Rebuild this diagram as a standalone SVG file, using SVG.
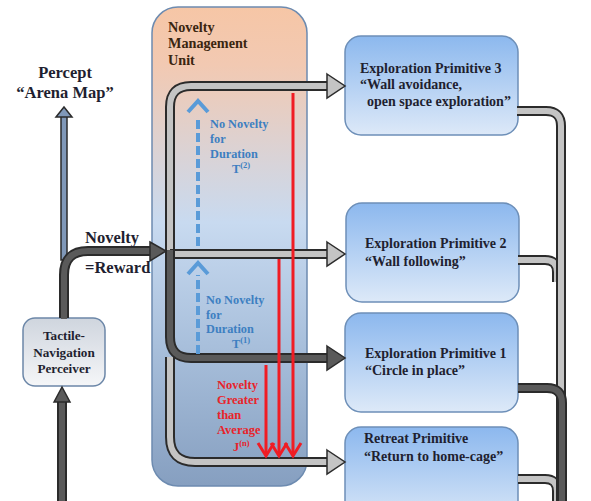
<svg xmlns="http://www.w3.org/2000/svg" width="591" height="501" viewBox="0 0 591 501">
<defs>
<linearGradient id="gNMU" x1="0" y1="0" x2="0" y2="1">
<stop offset="0" stop-color="#f6c6a6"/>
<stop offset="0.12" stop-color="#f2c9b2"/>
<stop offset="0.45" stop-color="#c8daf0"/>
<stop offset="0.7" stop-color="#a9c0dc"/>
<stop offset="1" stop-color="#869fc0"/>
</linearGradient>
<linearGradient id="gBox" x1="0" y1="0" x2="0" y2="1">
<stop offset="0" stop-color="#8cb8ee"/>
<stop offset="1" stop-color="#dde9f8"/>
</linearGradient>
<linearGradient id="gPer" x1="0" y1="0" x2="0" y2="1">
<stop offset="0" stop-color="#cfd5de"/>
<stop offset="1" stop-color="#f5f6f8"/>
</linearGradient>
</defs>
<style>
text{font-family:'Liberation Serif','Times New Roman','DejaVu Serif',serif;font-weight:bold}
.box{fill:url(#gBox);stroke:#6d8fb8;stroke-width:1.5}
.bt{font-size:14px;fill:#1f1f30}
.o{fill:none;stroke:#2b2b2b;stroke-width:10}
.lg{fill:none;stroke:#c4c4c4;stroke-width:6}
.dg{fill:none;stroke:#5a5a5a;stroke-width:6}
.ah{stroke:#2b2b2b;stroke-width:1.5;stroke-linejoin:miter}
.red{stroke:#f01c24;stroke-width:3;fill:none}
.blue{stroke:#5a9bd8;stroke-width:4;fill:none}
.bl{font-size:12.3px;fill:#3d7fc1}
.rd{font-size:12.5px;fill:#e8232a}
</style>

<g id="nmu">
<rect x="152" y="7" width="155" height="479" rx="26" fill="url(#gNMU)" stroke="#6d8bb0" stroke-width="1.5"/>
<text font-size="14.2" fill="#3a2510"><tspan x="168" y="32">Novelty</tspan><tspan x="168" y="48">Management</tspan><tspan x="168" y="65">Unit</tspan></text>
</g>

<g id="ep3">
<rect class="box" x="345" y="36" width="173" height="99" rx="16"/>
<text class="bt"><tspan x="360" y="73">Exploration Primitive 3</tspan><tspan x="360" y="89">“Wall avoidance,</tspan><tspan x="367" y="106">open space exploration”</tspan></text>
</g>
<g id="ep2">
<rect class="box" x="346" y="203" width="173" height="99" rx="16"/>
<text class="bt"><tspan x="365" y="248">Exploration Primitive 2</tspan><tspan x="365" y="266">“Wall following”</tspan></text>
</g>
<g id="ep1">
<rect class="box" x="345" y="313" width="173" height="99" rx="16"/>
<text class="bt"><tspan x="365" y="358">Exploration Primitive 1</tspan><tspan x="365" y="375">“Circle in place”</tspan></text>
</g>
<g id="retreat">
<rect class="box" x="345" y="427" width="173" height="99" rx="16"/>
<text class="bt"><tspan x="364" y="443">Retreat Primitive</tspan><tspan x="364" y="461">“Return to home-cage”</tspan></text>
</g>

<g id="perceiver">
<rect x="23" y="318" width="82" height="68" rx="12" fill="url(#gPer)" stroke="#6c87a8" stroke-width="1.5"/>
<text font-size="13.2" fill="#1f1f30" text-anchor="middle"><tspan x="64" y="340">Tactile-</tspan><tspan x="64" y="357">Navigation</tspan><tspan x="64" y="373">Perceiver</tspan></text>
</g>

<g id="percept">
<text font-size="16.5" fill="#1f1f30" text-anchor="middle"><tspan x="65" y="78">Percept</tspan><tspan x="65" y="98">“Arena Map”</tspan></text>
</g>

<g id="connectors">
<path class="o" d="M518,260 H545 Q557,260 557,272 V282"/>
<path class="lg" d="M518,260 H545 Q557,260 557,272 V282"/>
<path class="o" d="M518,479 H545 Q557,479 557,491 V506"/>
<path class="lg" d="M518,479 H545 Q557,479 557,491 V506"/>
<path class="o" d="M517,111 H546 Q561,111 561,126 V506"/>
<path class="lg" d="M517,111 H546 Q561,111 561,126 V506"/>
<path class="o" d="M518,388 H547 Q562,388 562,403 V506"/>
<path class="dg" d="M518,388 H547 Q562,388 562,403 V506"/>

<rect x="61" y="115" width="6" height="145" fill="#8098b8" stroke="#2b2b2b" stroke-width="1.5"/>
<polygon class="ah" points="56,117 64,107 72,117" fill="#8098b8"/>

<path class="o" d="M62,506 V400" stroke-width="9"/>
<path class="dg" d="M62,506 V400" stroke-width="5"/>
<polygon class="ah" points="54,402 62,387 70,402" fill="#5a5a5a"/>

<path class="o" d="M170,357 V437 Q170,462 195,462 H328"/>
<path class="lg" d="M170,357 V437 Q170,462 195,462 H328"/>
<polygon class="ah" points="327,450 345,462 327,474" fill="#c4c4c4"/>

<path class="o" d="M170,256 V107 Q170,86 191,86 H328"/>
<path class="lg" d="M170,256 V107 Q170,86 191,86 H328"/>
<polygon class="ah" points="327,74 345,86 327,98" fill="#c4c4c4"/>

<path class="o" d="M170,254 H328"/>
<path class="lg" d="M166,254 H328"/>
<polygon class="ah" points="327,242 345,254 327,266" fill="#c4c4c4"/>

<path class="o" d="M170,250 V337 Q170,358 191,358 H328"/>
<path class="dg" d="M170,250 V337 Q170,358 191,358 H328"/>
<polygon class="ah" points="327,346 345,358 327,370" fill="#5a5a5a"/>

<path class="o" d="M64,318 V275 Q64,251 88,251 H152"/>
<path class="dg" d="M64,319 V275 Q64,251 88,251 H152"/>
<polygon class="ah" points="150,242 166,251 150,261" fill="#5a5a5a"/>

<path class="blue" d="M198,246 V118" stroke-dasharray="9,4"/>
<polyline class="blue" points="188,112 198,101 208,112"/>
<path class="blue" d="M198,354 V275" stroke-dasharray="9,4"/>
<polyline class="blue" points="188,274 198,263 208,274"/>

<path class="red" d="M293,93 V455"/>
<path class="red" d="M279,259 V455"/>
<path class="red" d="M266,365 V455"/>
<polyline class="red" points="258,443 266,456 274,443"/>
<polyline class="red" points="271,443 279,456 287,443"/>
<polyline class="red" points="285,443 293,456 301,443"/>
</g>

<g id="labels">
<text font-size="16.5" fill="#1f1f30"><tspan x="85" y="243">Novelty</tspan><tspan x="85" y="273">=Reward</tspan></text>
<text class="bl"><tspan x="210" y="128">No Novelty</tspan><tspan x="210" y="143">for</tspan><tspan x="210" y="158">Duration</tspan><tspan x="232" y="173">T<tspan font-size="8.5" dy="-5">(2)</tspan></tspan></text>
<text class="bl"><tspan x="206" y="304">No Novelty</tspan><tspan x="206" y="319">for</tspan><tspan x="206" y="333">Duration</tspan><tspan x="232" y="348">T<tspan font-size="8.5" dy="-5">(1)</tspan></tspan></text>
<text class="rd"><tspan x="217" y="389">Novelty</tspan><tspan x="217" y="404">Greater</tspan><tspan x="217" y="419">than</tspan><tspan x="217" y="434">Average</tspan><tspan x="233" y="451">J<tspan font-size="8.5" dy="-5">(n)</tspan></tspan></text>
</g>
</svg>
